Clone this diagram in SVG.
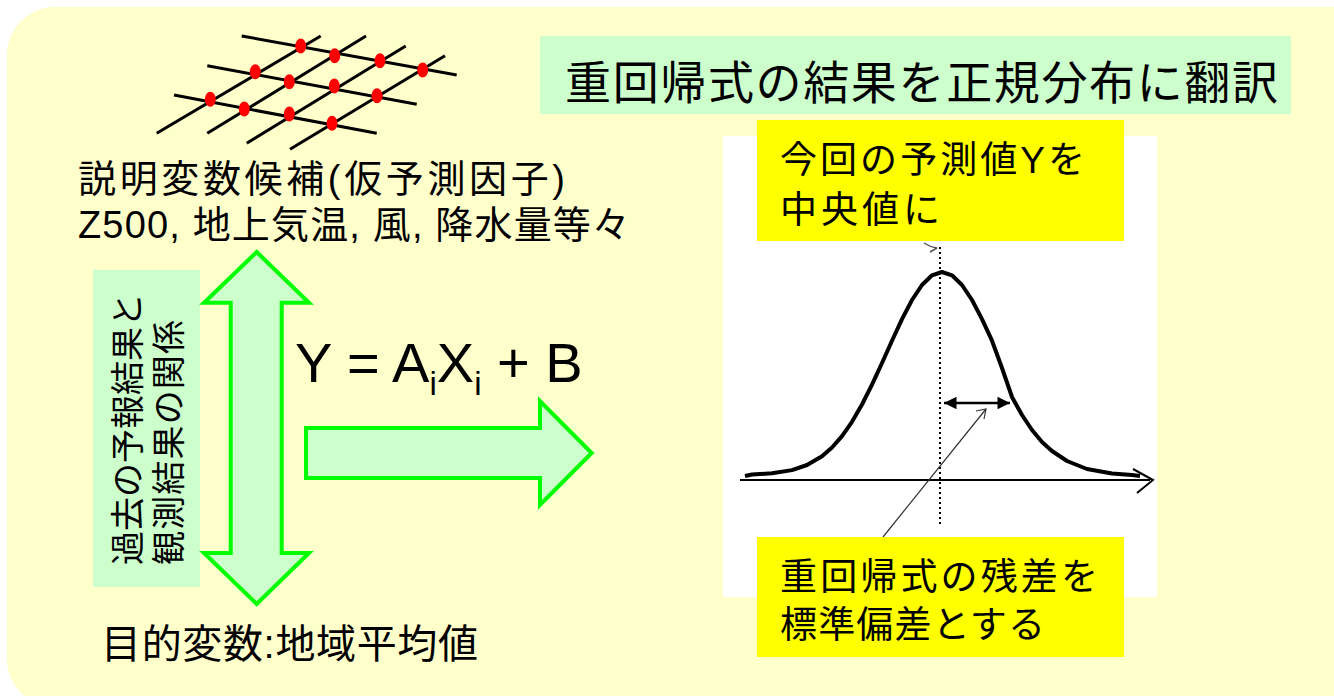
<svg xmlns="http://www.w3.org/2000/svg" width="1334" height="696" viewBox="0 0 1334 696">
<defs>
<style>
.jp{font-family:"Liberation Sans","Noto Sans CJK JP",sans-serif;fill:#000}
.grid line{stroke:#000;stroke-width:3;stroke-linecap:butt}
.dot{fill:#FF0000}
.garrow{fill:#CCFFCC;stroke:#00FF00;stroke-width:4;stroke-linejoin:miter}
.ybox{fill:#FFFF00}
</style>
<marker id="ah" viewBox="0 0 10 10" refX="10" refY="5" markerWidth="6" markerHeight="5" orient="auto-start-reverse" markerUnits="strokeWidth">
<path d="M0,0 L10,5 L0,10 Z" fill="#000"/>
</marker>
</defs>
<rect x="0" y="0" width="1334" height="696" fill="#FFFFFF"/>
<rect x="7" y="7" width="1380" height="700" rx="48" ry="48" fill="#FFFFCC"/>

<g id="grid" class="grid">
<line x1="241.7" y1="36" x2="456.7" y2="75"/>
<line x1="207.3" y1="65.7" x2="416.7" y2="104.3"/>
<line x1="174" y1="95" x2="376.7" y2="133.3"/>
<line x1="156.7" y1="133.3" x2="320.7" y2="36"/>
<line x1="207.3" y1="133.3" x2="366" y2="36"/>
<line x1="246.7" y1="143.3" x2="405.7" y2="46"/>
<line x1="290" y1="149.3" x2="445" y2="55.7"/>
<g class="dot">
<ellipse cx="300.7" cy="46" rx="5.5" ry="7.5"/>
<ellipse cx="334.7" cy="55.7" rx="5.5" ry="7.5"/>
<ellipse cx="380" cy="60.7" rx="5.5" ry="7.5"/>
<ellipse cx="422.7" cy="70" rx="5.5" ry="7.5"/>
<ellipse cx="255.3" cy="71.7" rx="5.5" ry="7.5"/>
<ellipse cx="289.3" cy="81.7" rx="5.5" ry="7.5"/>
<ellipse cx="334.3" cy="86" rx="5.5" ry="7.5"/>
<ellipse cx="377" cy="95.7" rx="5.5" ry="7.5"/>
<ellipse cx="210.3" cy="99.3" rx="5.5" ry="7.5"/>
<ellipse cx="244.3" cy="109" rx="5.5" ry="7.5"/>
<ellipse cx="289.3" cy="114" rx="5.5" ry="7.5"/>
<ellipse cx="332" cy="123.3" rx="5.5" ry="7.5"/>
</g>
</g>

<g id="candidates">
<text class="jp" x="78" y="192" font-size="38" textLength="487" lengthAdjust="spacing">説明変数候補(仮予測因子)</text>
<text class="jp" x="78" y="238" font-size="38" textLength="552" lengthAdjust="spacing">Z500, 地上気温, 風, 降水量等々</text>
</g>

<g id="title">
<rect x="540" y="36" width="751" height="78" fill="#CCFFCC"/>
<text class="jp" x="565" y="99" font-size="46" textLength="713" lengthAdjust="spacing">重回帰式の結果を正規分布に翻訳</text>
</g>

<g id="relation">
<rect x="93" y="270" width="107" height="317" fill="#CCFFCC"/>
<text class="jp" transform="translate(139.5,565) rotate(-90)" font-size="34" textLength="272" lengthAdjust="spacing">過去の予報結果と</text>
<text class="jp" transform="translate(180.5,565) rotate(-90)" font-size="34" textLength="245" lengthAdjust="spacing">観測結果の関係</text>
</g>

<g id="equation">
<text class="jp" x="295" y="382" font-size="56">Y = A<tspan font-size="33" dy="13">i</tspan><tspan dy="-13">X</tspan><tspan font-size="33" dy="13">i</tspan><tspan dy="-13"> + B</tspan></text>
</g>

<g id="target">
<text class="jp" x="101" y="658" font-size="40" textLength="377" lengthAdjust="spacing">目的変数:地域平均値</text>
</g>

<g id="distribution">
<rect x="723" y="136" width="434" height="461" fill="#FFFFFF"/>
<line x1="740" y1="480" x2="1150" y2="480" stroke="#000" stroke-width="2"/>
<polyline points="1133,469 1153,480 1137,493" fill="none" stroke="#000" stroke-width="2"/>
<line x1="940" y1="247" x2="940" y2="525" stroke="#000" stroke-width="2" stroke-dasharray="2 3"/>
<path d="M924,243 Q930,247 937,248 M930,252 L937,248" fill="none" stroke="#555" stroke-width="1.5"/>
<polyline fill="none" stroke="#000" stroke-width="4" stroke-linejoin="round" points="745,476 752,474.5 772,473.3 792,470.1 807,465 822,456.2 832,447.5 842,436.1 852,421.8 862,404.5 872,384.7 882,363 892,340.7 902,319.2 912,300 922,285 932,275.3 942,272 952,275.3 962,285 972,300 982,319.2 992,340.7 1002,368 1012,397 1022,415 1032,430 1042,442 1052,451 1067,461 1087,469 1112,473.5 1132,475 1140,476"/>
</g>

<g id="connectors">
<path class="garrow" d="M256.7,252 L309,302.7 L281.7,302.7 L281.7,553 L309,553 L256.7,604 L204,553 L230.7,553 L230.7,302.7 L204,302.7 Z"/>
<path class="garrow" d="M306,428 L540,428 L540,401 L591.7,453 L540,505 L540,478 L306,478 Z"/>
<line x1="944" y1="403" x2="1010" y2="403" stroke="#000" stroke-width="2.5" marker-start="url(#ah)" marker-end="url(#ah)"/>
<line x1="883" y1="537" x2="986" y2="409" stroke="#333" stroke-width="1.2"/>
<polyline points="976,411 986,409 984,419" fill="none" stroke="#333" stroke-width="1.2"/>
</g>

<g id="center-label">
<rect class="ybox" x="757" y="120" width="367" height="121"/>
<text class="jp" x="780" y="173" font-size="37" textLength="305" lengthAdjust="spacing">今回の予測値Yを</text>
<text class="jp" x="780" y="223" font-size="37" textLength="160" lengthAdjust="spacing">中央値に</text>
</g>

<g id="sd-label">
<rect class="ybox" x="757" y="537" width="367" height="120"/>
<text class="jp" x="780" y="590" font-size="37" textLength="318" lengthAdjust="spacing">重回帰式の残差を</text>
<text class="jp" x="780" y="638" font-size="37" textLength="265" lengthAdjust="spacing">標準偏差とする</text>
</g>
</svg>
